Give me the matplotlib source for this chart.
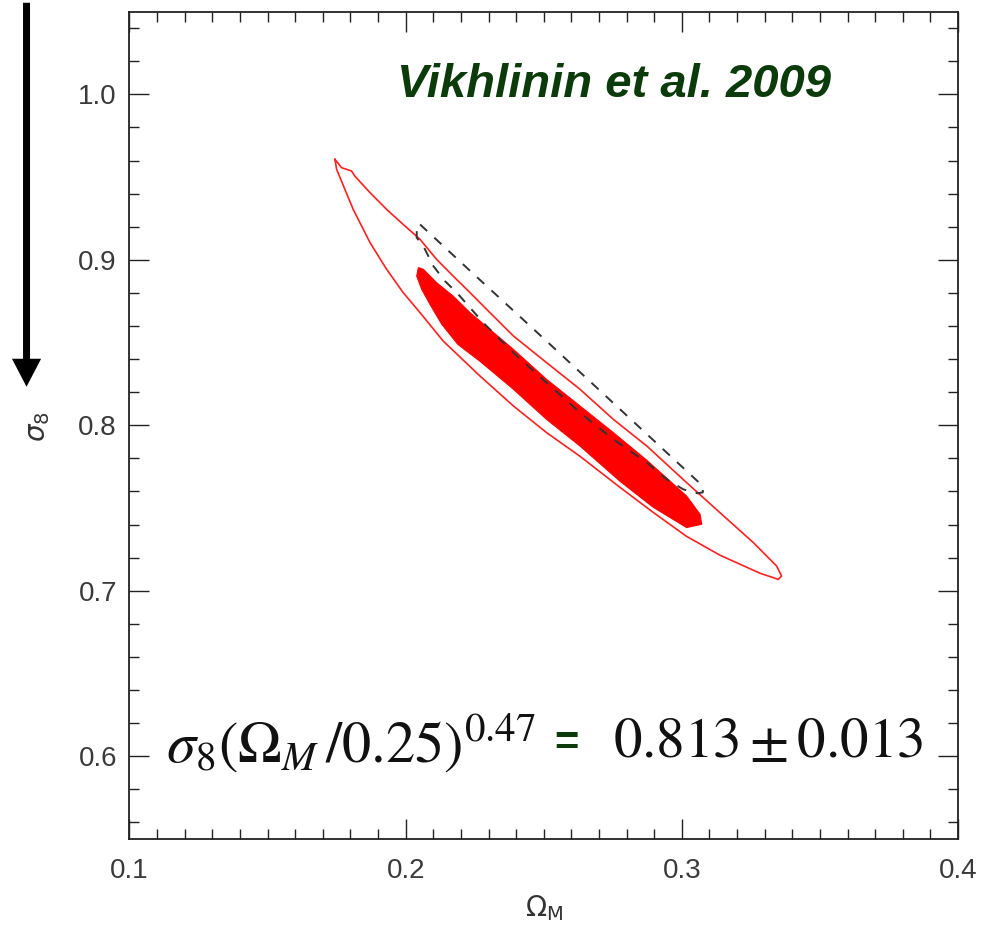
import numpy as np
import matplotlib.pyplot as plt
from matplotlib.patches import FancyArrowPatch
from matplotlib.ticker import MultipleLocator, FormatStrFormatter

# Confidence regions in the (Omega_M, sigma_8) plane

# outer contour (red line), closed path
outer_om = [0.1744, 0.1768, 0.1804, 0.1816, 0.1871, 0.1931, 0.1991, 0.2052, 0.2112,
            0.2172, 0.2233, 0.2293, 0.2390, 0.2510, 0.2631, 0.2752, 0.2873, 0.3017,
            0.3138, 0.3259, 0.3343, 0.3361,
            0.3349, 0.3283, 0.3138, 0.3017, 0.2896, 0.2776, 0.2631, 0.2510,
            0.2390, 0.2269, 0.2136, 0.2052, 0.1991, 0.1931, 0.1871, 0.1810, 0.1780,
            0.1750, 0.1744]
outer_s8 = [0.9607, 0.9557, 0.9537, 0.9506, 0.9406, 0.9305, 0.9214, 0.9124, 0.9003,
            0.8902, 0.8802, 0.8701, 0.8540, 0.8379, 0.8218, 0.8036, 0.7875, 0.7654,
            0.7472, 0.7291, 0.7150, 0.7089,
            0.7069, 0.7106, 0.7215, 0.7329, 0.7474, 0.7625, 0.7813, 0.7956,
            0.8117, 0.8298, 0.8509, 0.8681, 0.8802, 0.8943, 0.9104, 0.9305, 0.9426,
            0.9547, 0.9607]

# inner contour (filled red)
inner_om = [0.2046, 0.2064, 0.2112, 0.2172, 0.2233, 0.2390, 0.2510, 0.2631, 0.2752,
            0.2873, 0.3017, 0.3066, 0.3072,
            0.3017, 0.2896, 0.2776, 0.2631, 0.2510, 0.2390, 0.2269, 0.2189, 0.2131,
            0.2088, 0.2058, 0.2040]
inner_s8 = [0.8953, 0.8943, 0.8862, 0.8781, 0.8681, 0.8459, 0.8278, 0.8117, 0.7956,
            0.7789, 0.7573, 0.7462, 0.7402,
            0.7382, 0.7505, 0.7662, 0.7875, 0.8036, 0.8218, 0.8387, 0.8489, 0.8610,
            0.8731, 0.8822, 0.8902]

# dashed region
dash_om = [0.2052, 0.2233, 0.2510, 0.2873, 0.3066, 0.3076, 0.3076,
           0.3058, 0.3005, 0.2945, 0.2873, 0.2752, 0.2631, 0.2510, 0.2390, 0.2281,
           0.2185, 0.2142, 0.2100, 0.2064, 0.2040, 0.2040, 0.2045, 0.2052]
dash_s8 = [0.9214, 0.8934, 0.8509, 0.7947, 0.7648, 0.7625, 0.7595,
           0.7589, 0.7613, 0.7674, 0.7775, 0.7915, 0.8077, 0.8258, 0.8439, 0.8620,
           0.8802, 0.8872, 0.8963, 0.9083, 0.9134, 0.9184, 0.9214, 0.9214]

x_ticks = [0.1, 0.2, 0.3, 0.4]
y_ticks = [0.6, 0.7, 0.8, 0.9, 1.0]

fig = plt.figure(figsize=(9.9, 9.33), dpi=100)
ax = fig.add_axes([0.1308, 0.1008, 0.8369, 0.8867])

ax.fill(inner_om, inner_s8, color='#ff0000', lw=0.8, ec='#ff0000')
ax.plot(outer_om, outer_s8, color='#ff2020', lw=1.2)
ax.plot(dash_om, dash_s8, color='#333333', lw=1.4, dashes=(5, 5))

ax.set_xlim(0.1, 0.4)
ax.set_ylim(0.55, 1.05)
ax.set_xticks(x_ticks)
ax.set_yticks(y_ticks)
ax.xaxis.set_minor_locator(MultipleLocator(0.01))
ax.yaxis.set_minor_locator(MultipleLocator(0.02))
ax.xaxis.set_major_formatter(FormatStrFormatter('%.1f'))
ax.yaxis.set_major_formatter(FormatStrFormatter('%.1f'))
ax.tick_params(which='both', direction='in', top=True, right=True, width=1.0, color='#222222')
ax.tick_params(which='major', length=14.5, labelsize=20, labelcolor='#3a3a3a')
ax.tick_params(axis='x', which='major', pad=14)
ax.tick_params(axis='y', which='major', pad=9)
ax.tick_params(which='minor', length=7)
for s in ax.spines.values():
    s.set_linewidth(1.3)
    s.set_color('#222222')
for lab in ax.get_xticklabels() + ax.get_yticklabels():
    lab.set_family('Liberation Sans')

ax.set_xlabel(r'$\Omega_\mathrm{M}$', fontsize=20, color='#333333', math_fontfamily='dejavusans')
ax.xaxis.set_label_coords(0.5, -0.065)
ax.set_ylabel(r'$\sigma_8$', fontsize=20, color='#333333', math_fontfamily='dejavusans')
ax.yaxis.set_label_coords(-0.093, 0.498)

green = '#0b3a0b'
ax.text(0.585, 0.897, 'Vikhlinin et al. 2009', transform=ax.transAxes, ha='center', va='baseline',
        fontsize=34, fontweight='bold', style='italic', color=green, family='Liberation Sans')

ax.text(0.0445, 0.092, r'$\sigma_8(\Omega_M\,/0.25)^{0.47}$', transform=ax.transAxes,
        ha='left', va='baseline', fontsize=42, math_fontfamily='stix', color='#111111')
ax.text(0.527, 0.101, '=', transform=ax.transAxes, ha='center', va='baseline',
        fontsize=30, fontweight='bold', color=green, family='Liberation Sans')
ax.text(0.583, 0.099, r'$0.813 \pm 0.013$', transform=ax.transAxes,
        ha='left', va='baseline', fontsize=41, math_fontfamily='stix', color='#111111')

# downward arrow at the left edge
fig.patches.append(FancyArrowPatch(
    (0.0268, 1.0), (0.0268, 0.5825), transform=fig.transFigure,
    arrowstyle='simple,head_length=0.72,head_width=0.75,tail_width=0.18',
    mutation_scale=28, color='black', lw=0))

fig.savefig('out.png', dpi=100)
